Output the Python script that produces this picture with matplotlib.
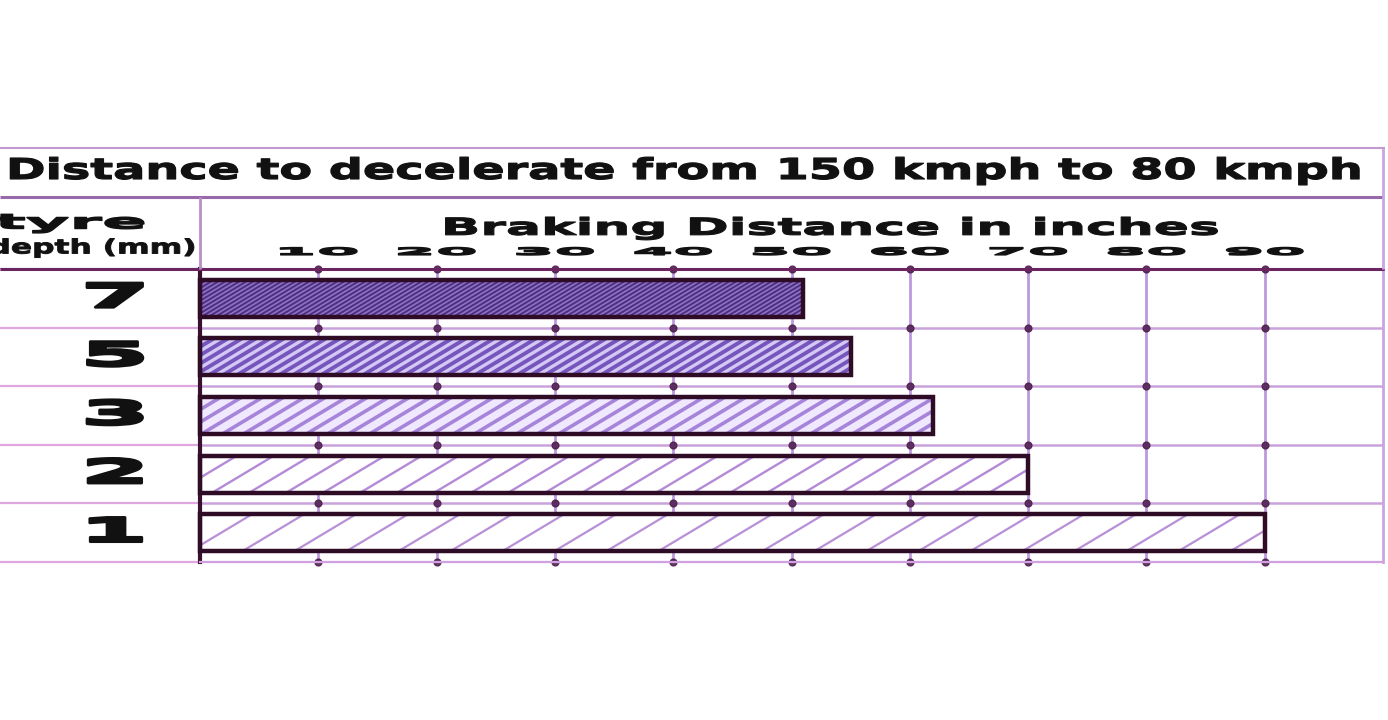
import numpy as np
import matplotlib
matplotlib.use("Agg")
import matplotlib.pyplot as plt
from matplotlib.lines import Line2D
from matplotlib.patheffects import AbstractPathEffect
from matplotlib.transforms import Affine2D

# data
depths = ["7", "5", "3", "2", "1"]              # tyre depth (mm), top to bottom
distances = [51, 55, 62, 70, 90]                # braking distance (inches)
tick_vals = [10, 20, 30, 40, 50, 60, 70, 80, 90]
tick_labels = [str(t) for t in tick_vals]

title = "Distance to decelerate from 150 kmph to 80 kmph"
header = "Braking Distance in inches"

# bar styles, top to bottom: fill, hatch colour, hatch gap (px), hatch width
fills = ["#8e74c4", "#d4c8f6", "#efe8ff", "white", "white"]
hatch_cols = ["#4e2e80", "#7656bc", "#a684da", "#b48ad8", "#b890d8"]
hatch_gaps = [7, 14, 21, 37, 52]
hatch_lws = [1.4, 2.8, 2.6, 1.7, 1.6]

W, H = 1388, 720


def fx(x):
    return x / W


def fy(y):
    return 1 - y / H


class Squash(AbstractPathEffect):
    """stretch glyphs about their ink centre (to a w x h pixel box, or by sx, sy)"""

    def __init__(self, w=None, h=None, sx=1.0, sy=1.0, lw=0.0):
        super().__init__()
        self.w, self.h, self.sx, self.sy, self.lw = w, h, sx, sy, lw

    def draw_path(self, renderer, gc, tpath, affine, rgbFace=None):
        ext = tpath.transformed(affine).get_extents()
        pad = self.lw * 100 / 72
        sx = (self.w - pad) / ext.width if self.w else self.sx
        sy = (self.h - pad) / ext.height if self.h else self.sy
        cx, cy = (ext.x0 + ext.x1) / 2, (ext.y0 + ext.y1) / 2
        t = affine + Affine2D().translate(-cx, -cy).scale(sx, sy).translate(cx, cy)
        gc0 = renderer.new_gc()
        gc0.copy_properties(gc)
        if self.lw:
            gc0.set_linewidth(self.lw)
            gc0.set_foreground(rgbFace)
            gc0.set_joinstyle("round")
        renderer.draw_path(gc0, tpath, t, rgbFace)
        gc0.restore()


def fig_line(x0, y0, x1, y1, color, lw):
    fig.add_artist(Line2D([fx(x0), fx(x1)], [fy(y0), fy(y1)],
                          transform=fig.transFigure, color=color, lw=lw,
                          solid_capstyle="butt"))


def fig_text(x, y, s, size, effect):
    fig.text(fx(x), fy(y), s, ha="center", va="center", fontsize=size,
             fontweight="bold", family="DejaVu Sans", color="#111111",
             path_effects=[effect])


fig = plt.figure(figsize=(W / 100, H / 100), dpi=100)
fig.patch.set_facecolor("white")

ax_l, ax_r, ax_t, ax_b = 200, 1383, 269, 562
ax = fig.add_axes([fx(ax_l), fy(ax_b), (ax_r - ax_l) / W, (ax_b - ax_t) / H])
ax.set_xlim(0, 100)
ax.set_ylim(len(depths) - 0.5, -0.5)
ypos = np.arange(len(depths))
bounds = np.arange(len(depths) + 1) - 0.5

# grid: lavender lines, dark dots at crossings
ax.set_xticks(tick_vals, tick_labels)
ax.set_yticks([])
ax.grid(axis="x", color="#bc98de", lw=2.0, zorder=1)
for b in bounds[1:-1]:
    ax.axhline(b, color="#c9a2dc", lw=1.8, zorder=1)
gx, gy = np.meshgrid(tick_vals, bounds)
ax.scatter(gx.ravel(), gy.ravel(), s=24, color="#4a1a4a", alpha=0.85,
           zorder=2, clip_on=False)

for side, col, lw in [("left", "#3a1030", 3.0), ("right", "#c6a6e6", 2.0),
                      ("top", "#7a2a6a", 2.0), ("bottom", "#d0a0e0", 1.6)]:
    ax.spines[side].set_color(col)
    ax.spines[side].set_linewidth(lw)

ax.xaxis.tick_top()
ax.tick_params(axis="x", length=0, pad=7, labelsize=10)
for lbl in ax.get_xticklabels():
    lbl.set_fontweight("bold")
    lbl.set_color("#111111")
    lbl.set_path_effects([Squash(w=78, h=9, lw=1.0)])

# bars with sloping hatch lines clipped to each bar
bars = ax.barh(ypos, distances, height=0.63, color=fills, linewidth=0,
               zorder=2.4)
px_x = (ax_r - ax_l) / 100
px_y = (ax_b - ax_t) / len(depths)
slope = 0.6 * px_x / px_y
for bar, v, y, gap, hc, hw in zip(bars, distances, ypos, hatch_gaps, hatch_cols, hatch_lws):
    yb = y + 0.63 / 2
    for x0 in np.arange(-0.63 / slope, v, gap / px_x):
        ln = ax.axline((x0, yb), slope=-slope, color=hc, lw=hw, zorder=2.5)
        ln.set_clip_path(bar)
    ax.add_patch(plt.Rectangle(bar.get_xy(), bar.get_width(), bar.get_height(),
                               fill=False, edgecolor="#2e0c26", lw=3.2,
                               zorder=3, clip_on=False))

# left column: row labels and pink row lines
ax.hlines(bounds, -ax_l / (ax_r - ax_l), 0, transform=ax.get_yaxis_transform(),
          colors="#e0a6e0", lw=1.6, clip_on=False)
for d, y in zip(depths, ypos):
    ax.text(-(ax_l - 115) / (ax_r - ax_l), y, d, transform=ax.get_yaxis_transform(),
            ha="center", va="center", fontsize=26, fontweight="bold",
            color="#111111", path_effects=[Squash(sx=2.8, sy=0.92, lw=2.0)])

# table frame around title and header
fig_line(0, 148, 1385, 148, "#c09ad0", 1.5)
fig_line(0, 197, 1383, 197, "#9868a8", 2.2)
fig_line(0, 268.5, 1383, 268.5, "#6a2460", 2.2)
fig_line(200, 197, 200, 269, "#b890c8", 2.0)
fig_line(1383, 148, 1383, 269, "#c6a6e6", 2.0)

fig_text(685, 171, title, 26, Squash(w=1350, h=29, lw=0.9))
fig_text(831, 228, header, 20, Squash(w=773, h=24, lw=0.8))
fig_text(70, 223, "tyre", 16, Squash(w=150, h=20, lw=1.0))
fig_text(92, 248, "depth (mm)", 13, Squash(w=205, h=20, lw=0.7))

fig.savefig("out.png", dpi=100)
